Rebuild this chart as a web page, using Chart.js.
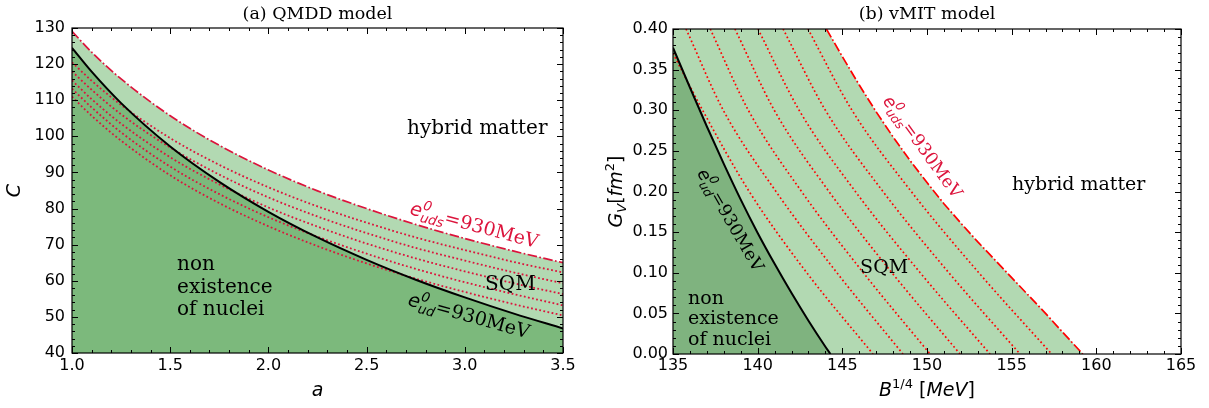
<!DOCTYPE html>
<html>
<head>
<meta charset="utf-8">
<script src="https://cdn.jsdelivr.net/npm/chart.js@4.4.1/dist/chart.umd.min.js"></script>
<style>
  html, body { margin: 0; padding: 0; background: #fff; }
  body { width: 1209px; height: 408px; position: relative; overflow: hidden; }
  canvas { position: absolute; top: 0; }
  #qmdd { left: 0; }
  #vmit { left: 604px; }
</style>
</head>
<body>
<canvas id="qmdd" width="604" height="408"></canvas>
<canvas id="vmit" width="605" height="408"></canvas>
<script>
// ---- (a) QMDD model: C against a ----
const aGrid = [1.0, 1.1, 1.25, 1.5, 1.75, 2.0, 2.25, 2.5, 2.75, 3.0, 3.25, 3.5];
const cEud = [124.5, 117.9, 109.2, 97.2, 87.4, 79.1, 72.0, 65.8, 60.3, 55.4, 50.9, 46.8];
const cEuds = [129.1, 123.3, 115.9, 105.7, 97.5, 90.7, 84.9, 80.0, 75.6, 71.7, 68.2, 65.0];
const cDotted = [
  [120.5, 115.4, 108.7, 99.5, 92.1, 85.9, 80.6, 76.1, 72.0, 68.5, 65.2, 62.3],
  [118.0, 112.9, 106.1, 96.9, 89.4, 83.1, 77.8, 73.2, 69.1, 65.6, 62.3, 59.3],
  [115.5, 110.3, 103.5, 94.2, 86.7, 80.3, 75.0, 70.3, 66.2, 62.6, 59.3, 56.3],
  [113.2, 108.0, 101.1, 91.6, 84.0, 77.6, 72.2, 67.5, 63.3, 59.6, 56.3, 53.2],
  [111.0, 105.7, 98.8, 89.2, 81.5, 75.1, 69.6, 64.8, 60.6, 56.9, 53.5, 50.4]
];
const aTicks = [1.0, 1.5, 2.0, 2.5, 3.0, 3.5];
const cTicks = [40, 50, 60, 70, 80, 90, 100, 110, 120, 130];

// ---- (b) vMIT model: G_V against B^(1/4) ----
const bEud = [135, 136, 137, 138, 139, 140, 141, 142, 143, 144, 144.3];
const gEud = [0.377, 0.328, 0.280, 0.234, 0.190, 0.149, 0.111, 0.075, 0.041, 0.009, 0.0];
const bEuds = [144.06, 145, 146, 147, 148, 149, 150, 151, 152, 153, 154, 155, 156, 157, 158, 159.2];
const gEuds = [0.40, 0.366, 0.331, 0.298, 0.267, 0.238, 0.211, 0.185, 0.161, 0.138, 0.116, 0.094, 0.072, 0.050, 0.027, 0.0];
// dotted curves, sampled at G_V = top, 0.30, 0.20, 0.10, 0.00 (the first one enters through the left edge)
const gDotTop = [0.370, 0.40, 0.40, 0.40, 0.40, 0.40, 0.40];
const gDotRest = [0.30, 0.20, 0.10, 0.0];
const bDotted = [
  [135.0, 136.75, 139.5, 142.9, 146.81],
  [135.77, 137.97, 141.08, 144.68, 148.58],
  [137.2, 139.45, 142.59, 146.24, 150.18],
  [138.66, 140.98, 144.21, 147.93, 151.95],
  [140.02, 142.45, 145.77, 149.60, 153.72],
  [141.50, 144.0, 147.4, 151.29, 155.49],
  [142.97, 145.57, 149.07, 153.06, 157.36]
];
const bTicks = [135, 140, 145, 150, 155, 160, 165];
const gTicks = [0.00, 0.05, 0.10, 0.15, 0.20, 0.25, 0.30, 0.35, 0.40];

const CRIMSON = '#dc143c';
const RED = '#ff0000';
const SERIF = '"DejaVu Serif"';
const SANS = '"DejaVu Sans"';

const pts = (xs, ys) => xs.map((x, i) => ({ x: x, y: ys[i] }));

// draws a row of text runs (for math-like labels), rotated about (x, y)
function drawRuns(ctx, runs, x, y, angle, align) {
  ctx.save();
  ctx.translate(x, y);
  ctx.rotate(angle * Math.PI / 180);
  ctx.textBaseline = 'alphabetic';
  ctx.textAlign = 'left';
  let total = 0;
  runs.forEach(r => {
    ctx.font = r.font;
    r.w = ctx.measureText(r.t).width;
    if (!r.stack) total += r.w;
  });
  let cx = align === 'center' ? -total / 2 : 0;
  runs.forEach(r => {
    ctx.font = r.font;
    ctx.fillStyle = r.color || '#000';
    ctx.fillText(r.t, cx, r.dy || 0);
    if (!r.stack) cx += r.w;
  });
  ctx.restore();
}

function energyLabel(sub, size, color) {
  const small = 'italic ' + (size * 0.7).toFixed(1) + 'px ' + SANS;
  return [
    { t: 'e', font: 'italic ' + size + 'px ' + SANS, color: color },
    { t: '0', font: small, dy: -size * 0.42, stack: true, color: color },
    { t: sub, font: small, dy: size * 0.24, color: color },
    { t: '=930MeV', font: size + 'px ' + SERIF, color: color }
  ];
}

function plainText(ctx, lines, x, y, size, gap) {
  ctx.save();
  ctx.font = size + 'px ' + SERIF;
  ctx.fillStyle = '#000';
  ctx.textAlign = 'left';
  ctx.textBaseline = 'middle';
  lines.forEach((s, i) => ctx.fillText(s, x, y + i * gap));
  ctx.restore();
}

// frame, inward ticks on all four sides, and the text layer
function decor(cfg) {
  return {
    id: 'decor',
    afterDraw(chart) {
      const { ctx, chartArea: ca } = chart;
      const xs = chart.scales.x, ys = chart.scales.y;
      ctx.save();
      ctx.strokeStyle = '#000';
      ctx.lineWidth = 1;
      const seg = (x1, y1, x2, y2) => { ctx.beginPath(); ctx.moveTo(x1, y1); ctx.lineTo(x2, y2); ctx.stroke(); };
      const nx = Math.round((xs.max - xs.min) / cfg.xMinor);
      for (let i = 0; i <= nx; i++) {
        const v = xs.min + i * cfg.xMinor;
        const r = (v - xs.min) / cfg.xMajor;
        const len = Math.abs(r - Math.round(r)) < 1e-6 ? 6 : 3;
        const p = Math.round(xs.getPixelForValue(v)) + 0.5;
        seg(p, ca.bottom, p, ca.bottom - len);
        seg(p, ca.top, p, ca.top + len);
      }
      const ny = Math.round((ys.max - ys.min) / cfg.yMinor);
      for (let i = 0; i <= ny; i++) {
        const v = ys.min + i * cfg.yMinor;
        const r = (v - ys.min) / cfg.yMajor;
        const len = Math.abs(r - Math.round(r)) < 1e-6 ? 6 : 3;
        const p = Math.round(ys.getPixelForValue(v)) + 0.5;
        seg(ca.left, p, ca.left + len, p);
        seg(ca.right, p, ca.right - len, p);
      }
      ctx.lineWidth = 1.2;
      ctx.strokeRect(ca.left, ca.top, ca.right - ca.left, ca.bottom - ca.top);
      ctx.restore();
      cfg.draw(chart, ctx, xs, ys, ca);
    }
  };
}

function axisOpts(min, max, ticks, digits, size, pad) {
  return {
    type: 'linear',
    min: min,
    max: max,
    afterBuildTicks: s => { s.ticks = ticks.map(v => ({ value: v })); },
    afterFit: s => { if (s.isHorizontal()) s.height = size; else s.width = size; },
    grid: { display: false, drawTicks: false },
    border: { display: false },
    ticks: {
      padding: pad,
      color: '#000',
      autoSkip: false,
      maxRotation: 0,
      font: { family: 'DejaVu Sans', size: 16 },
      callback: v => v.toFixed(digits)
    }
  };
}

const common = {
  responsive: false,
  animation: false,
  events: [],
  plugins: {
    legend: { display: false },
    tooltip: { enabled: false },
    filler: { drawTime: 'beforeDatasetsDraw' }
  }
};

// ---- panel (a) ----
const qDatasets = [
  { data: pts(aGrid, cEud), borderColor: '#000', borderWidth: 2, pointRadius: 0, showLine: true,
    cubicInterpolationMode: 'monotone', fill: 'start', backgroundColor: 'rgb(124,185,124)' },
  { data: pts(aGrid, cEuds), borderColor: CRIMSON, borderWidth: 1.7, borderDash: [9.6, 2.4, 1.7, 2.4],
    pointRadius: 0, showLine: true, cubicInterpolationMode: 'monotone', fill: 0, backgroundColor: 'rgb(178,217,178)' }
];
cDotted.forEach(c => qDatasets.push({
  data: pts(aGrid, c), borderColor: CRIMSON, borderWidth: 1.8, borderDash: [1.8, 2.4],
  pointRadius: 0, showLine: true, cubicInterpolationMode: 'monotone', fill: false
}));

new Chart(document.getElementById('qmdd'), {
  type: 'scatter',
  data: { datasets: qDatasets },
  options: Object.assign({}, common, {
    layout: { padding: { top: 28, right: 41, left: 0, bottom: 0 } },
    scales: {
      x: axisOpts(1.0, 3.5, aTicks, 1, 55, 3),
      y: axisOpts(40, 130, cTicks, 0, 72, 7)
    }
  }),
  plugins: [decor({
    xMajor: 0.5, xMinor: 0.1, yMajor: 10, yMinor: 2,
    draw(chart, ctx, xs, ys, ca) {
      const X = v => xs.getPixelForValue(v), Y = v => ys.getPixelForValue(v);
      plainText(ctx, ['hybrid matter'], X(2.706), Y(102.0), 20, 0);
      plainText(ctx, ['non', 'existence', 'of nuclei'], X(1.535), Y(64.4), 20, 22.5);
      plainText(ctx, ['SQM'], X(3.103), Y(58.8), 20, 0);
      drawRuns(ctx, energyLabel('uds', 19, CRIMSON), X(2.716), Y(78.5), 15, 'left');
      drawRuns(ctx, energyLabel('ud', 19, '#000'), X(2.706), Y(53.3), 15.5, 'left');
      ctx.save();
      ctx.fillStyle = '#000';
      ctx.textAlign = 'center';
      ctx.textBaseline = 'middle';
      ctx.font = '17.5px ' + SERIF;
      ctx.fillText('(a) QMDD model', (ca.left + ca.right) / 2, 14);
      ctx.restore();
      drawRuns(ctx, [{ t: 'a', font: 'italic 19px ' + SANS }], (ca.left + ca.right) / 2, 396, 0, 'center');
      drawRuns(ctx, [{ t: 'C', font: 'italic 19px ' + SANS }], 20, (ca.top + ca.bottom) / 2, -90, 'center');
    }
  })]
});

// ---- panel (b) ----
const vDatasets = [
  { data: pts(bEud, gEud), borderColor: '#000', borderWidth: 2, pointRadius: 0, showLine: true,
    cubicInterpolationMode: 'monotone', fill: 'origin', backgroundColor: 'rgb(127,179,127)' },
  { data: pts(bEuds, gEuds), borderColor: RED, borderWidth: 1.7, borderDash: [9.6, 2.4, 1.7, 2.4],
    pointRadius: 0, showLine: true, fill: false }
];
bDotted.forEach((b, i) => vDatasets.push({
  data: pts(b, [gDotTop[i]].concat(gDotRest)), borderColor: RED, borderWidth: 1.7, borderDash: [1.7, 2.6],
  pointRadius: 0, showLine: true, cubicInterpolationMode: 'monotone', fill: false
}));
// light band under the e_uds curve, closed along the top edge of the frame
vDatasets.push({
  data: pts([bTicks[0]].concat(bEuds), [gTicks[gTicks.length - 1]].concat(gEuds)),
  borderWidth: 0, borderColor: 'rgba(0,0,0,0)', pointRadius: 0, showLine: true,
  fill: 'origin', backgroundColor: 'rgb(178,217,178)'
});

new Chart(document.getElementById('vmit'), {
  type: 'scatter',
  data: { datasets: vDatasets },
  options: Object.assign({}, common, {
    layout: { padding: { top: 29, right: 28, left: 0, bottom: 0 } },
    scales: {
      x: axisOpts(135, 165, bTicks, 0, 54, 2),
      y: axisOpts(0, 0.40, gTicks, 2, 69, 5)
    }
  }),
  plugins: [decor({
    xMajor: 5, xMinor: 1, yMajor: 0.05, yMinor: 0.01,
    draw(chart, ctx, xs, ys, ca) {
      const X = v => xs.getPixelForValue(v), Y = v => ys.getPixelForValue(v);
      plainText(ctx, ['hybrid matter'], X(155.02), Y(0.208), 19, 0);
      plainText(ctx, ['SQM'], X(146.05), Y(0.106), 19, 0);
      plainText(ctx, ['non', 'existence', 'of nuclei'], X(135.89), Y(0.0677), 19, 20.5);
      drawRuns(ctx, energyLabel('uds', 17.5, CRIMSON), X(147.36), Y(0.3114), 54, 'left');
      drawRuns(ctx, energyLabel('ud', 17.5, '#000'), X(136.4), Y(0.2228), 60, 'left');
      ctx.save();
      ctx.fillStyle = '#000';
      ctx.textAlign = 'center';
      ctx.textBaseline = 'middle';
      ctx.font = '17.5px ' + SERIF;
      ctx.fillText('(b) vMIT model', (ca.left + ca.right) / 2, 14);
      ctx.restore();
      const it = 'italic 19px ' + SANS, rm = '19px ' + SANS, sm = '13px ' + SANS;
      drawRuns(ctx, [
        { t: 'B', font: it }, { t: '1/4', font: sm, dy: -8 }, { t: ' [', font: rm },
        { t: 'MeV', font: it }, { t: ']', font: rm }
      ], (ca.left + ca.right) / 2, 396, 0, 'center');
      drawRuns(ctx, [
        { t: 'G', font: it }, { t: 'V', font: 'italic 13px ' + SANS, dy: 4 }, { t: '[', font: rm },
        { t: 'fm', font: it }, { t: '2', font: sm, dy: -8 }, { t: ']', font: rm }
      ], 18, (ca.top + ca.bottom) / 2, -90, 'center');
    }
  })]
});
</script>
</body>
</html>
